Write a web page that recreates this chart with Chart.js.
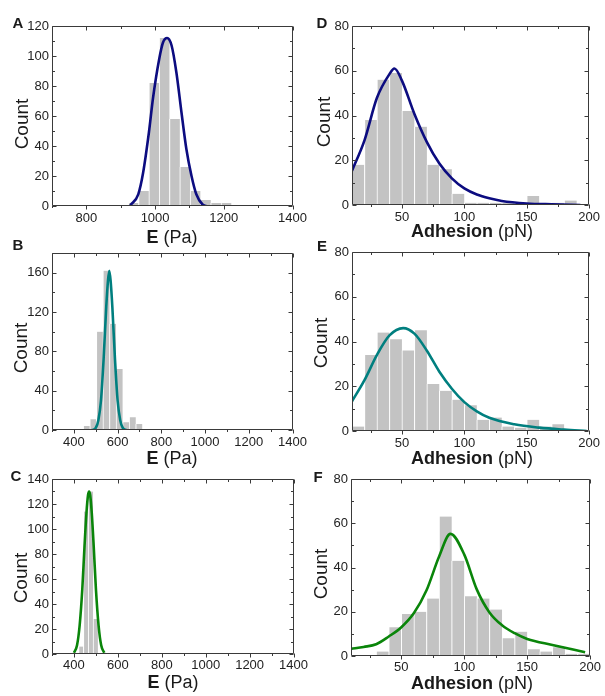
<!doctype html>
<html lang="en">
<head>
<meta charset="utf-8">
<title>Stiffness and adhesion histograms</title>
<script src="https://cdn.jsdelivr.net/npm/chart.js@4.4.1/dist/chart.umd.min.js"></script>
<style>
  body { margin: 0; background: #fff; }
  #fig { position: relative; width: 605px; height: 696px; overflow: hidden;
         font-family: "Liberation Sans", Arial, sans-serif; color: #1a1a1a; }
  #fig canvas { position: absolute; }
  .lbl { position: absolute; white-space: nowrap; line-height: 1; transform: translate(-50%, -50%); }
  .ylab { font-size: 19px; transform: translate(-50%, -50%) rotate(-90deg); }
  .xlab { font-size: 18px; }
  .tag { font-size: 15px; font-weight: bold; }
</style>
</head>
<body>
<div id="fig">
  <canvas id="cA" width="312" height="230" style="left:0;top:0"></canvas>
  <canvas id="cD" width="305" height="230" style="left:300px;top:0"></canvas>
  <canvas id="cB" width="312" height="230" style="left:0;top:230px"></canvas>
  <canvas id="cE" width="305" height="230" style="left:300px;top:230px"></canvas>
  <canvas id="cC" width="312" height="236" style="left:0;top:460px"></canvas>
  <canvas id="cF" width="305" height="236" style="left:300px;top:460px"></canvas>

  <div class="lbl tag" style="left:18px;top:22px">A</div>
  <div class="lbl tag" style="left:322px;top:22px">D</div>
  <div class="lbl tag" style="left:18px;top:244px">B</div>
  <div class="lbl tag" style="left:322px;top:245px">E</div>
  <div class="lbl tag" style="left:16px;top:475px">C</div>
  <div class="lbl tag" style="left:318px;top:476px">F</div>

  <div class="lbl ylab" style="left:21px;top:124px">Count</div>
  <div class="lbl ylab" style="left:323px;top:122px">Count</div>
  <div class="lbl ylab" style="left:20px;top:348px">Count</div>
  <div class="lbl ylab" style="left:320px;top:343px">Count</div>
  <div class="lbl ylab" style="left:20px;top:578px">Count</div>
  <div class="lbl ylab" style="left:320px;top:574px">Count</div>

  <div class="lbl xlab" style="left:172px;top:237px"><b>E</b> (Pa)</div>
  <div class="lbl xlab" style="left:472px;top:231px"><b>Adhesion</b> (pN)</div>
  <div class="lbl xlab" style="left:172px;top:458px"><b>E</b> (Pa)</div>
  <div class="lbl xlab" style="left:472px;top:458px"><b>Adhesion</b> (pN)</div>
  <div class="lbl xlab" style="left:173px;top:682px"><b>E</b> (Pa)</div>
  <div class="lbl xlab" style="left:472px;top:683px"><b>Adhesion</b> (pN)</div>
</div>

<script>
// ---- data ----
// A: E (Pa)
const binsA = [937, 967, 997, 1027, 1057, 1087, 1117, 1147, 1177, 1207];
const countsA = [2, 10, 82, 112, 58, 26, 10, 4, 2, 2];
const fitXA = [928, 951, 965, 982, 994, 1012, 1023, 1035, 1048, 1062, 1077, 1091, 1106, 1120, 1138, 1149];
const fitYA = [0.4, 7.8, 22, 49, 72, 98, 109, 112, 107, 89, 62, 38, 20, 7.8, 1, 0];

// B: E (Pa)
const binsB = [458, 488, 518, 548, 578, 608, 638, 668, 698];
const countsB = [4, 11, 100, 162, 108, 62, 8, 13, 6];
const fitXB = [484, 500, 512, 524, 536, 548, 556, 562, 568, 576, 588, 600, 612, 624, 640];
const fitYB = [0, 2, 10, 30, 72, 125, 152, 162, 152, 125, 72, 30, 10, 2, 0];

// C: E (Pa)
const binsC = [432, 454, 476, 498];
const countsC = [6, 114, 130, 28];
const fitXC = [400, 414, 426, 438, 448, 457, 464, 469, 474, 481, 490, 500, 512, 524, 538];
const fitYC = [1, 7, 23, 52, 86, 113, 127, 130, 127, 113, 86, 52, 23, 7, 1];

// D: Adhesion (pN)
const binsD = [15, 25, 35, 45, 55, 65, 75, 85, 95, 105, 115, 125, 135, 145, 155, 165, 175, 185];
const countsD = [18, 38, 56, 59, 42, 35, 18, 16, 5, 1, 1, 1, 1, 0, 4, 0, 1, 2];
const fitXD = [10, 20, 30, 40, 44, 50, 60, 70, 80, 90, 100, 110, 120, 130, 150, 170, 193];
const fitYD = [15.3, 28.9, 47.9, 58.5, 61, 55.6, 40.7, 28.1, 18.5, 11.9, 7.4, 4.7, 3.0, 1.8, 0.7, 0.3, 0];

// E: Adhesion (pN)
const binsE = [15, 25, 35, 45, 55, 65, 75, 85, 95, 105, 115, 125, 135, 145, 155, 165, 175, 185];
const countsE = [2, 34, 44, 41, 36, 45, 21, 18, 14, 11.5, 5, 6, 2, 1.5, 5, 2, 3, 0.5];
const fitXE = [10, 20, 30, 40, 51, 60, 70, 80, 90, 100, 110, 120, 140, 160, 180, 198];
const fitYE = [13.3, 22.7, 34, 42.7, 46, 43.5, 35.9, 26.5, 18.9, 12.9, 8.8, 5.9, 3, 1.5, 0.6, 0];

// F: Adhesion (pN)
const binsF = [35, 45, 55, 65, 75, 85, 95, 105, 115, 125, 135, 145, 155, 165, 175, 185, 195];
const countsF = [2, 13, 19, 20, 26, 63, 43, 27, 26, 21, 8, 11, 3, 2, 4, 1, 1];
const fitXF = [10, 20, 30, 40, 50, 60, 70, 80, 89, 100, 110, 120, 130, 140, 150, 170, 196];
const fitYF = [3.2, 4.1, 5.3, 8.8, 13, 19.4, 29.7, 45, 55.2, 45.8, 30, 19.7, 13.9, 10.3, 7.7, 5, 1.7];

// tick labels
const ticksEA = [800, 1000, 1200, 1400];
const ticksEBC = [400, 600, 800, 1000, 1200, 1400];
const ticksAdh = [50, 100, 150, 200];
const ticksCountA = [0, 20, 40, 60, 80, 100, 120];
const ticksCountB = [0, 40, 80, 120, 160];
const ticksCountC = [0, 20, 40, 60, 80, 100, 120, 140];
const ticksCountDEF = [0, 20, 40, 60, 80];

Chart.defaults.font.family = '"Liberation Sans", Arial, sans-serif';
Chart.defaults.color = '#222';

// box around the plot with Origin-style ticks (out at the bottom, in elsewhere)
const frame = {
  id: 'frame',
  afterDatasetsDraw(chart, args, opts) {
    const {ctx, chartArea: a, scales: {x, y}} = chart;
    const L = Math.round(a.left) + 0.5, R = Math.round(a.right) - 0.5;
    const T = Math.round(a.top) + 0.5, B = Math.round(a.bottom) - 0.5;
    ctx.save();
    ctx.strokeStyle = '#3a3a3a';
    ctx.lineWidth = 1;
    ctx.beginPath();
    ctx.rect(L, T, R - L, B - T);
    x.ticks.forEach(t => {
      const px = Math.round(x.getPixelForValue(t.value)) + 0.5;
      const len = opts.xMajor.includes(t.value) ? 4 : 2.5;
      ctx.moveTo(px, B); ctx.lineTo(px, B + len);
      ctx.moveTo(px, T); ctx.lineTo(px, T + len);
    });
    y.ticks.forEach(t => {
      const py = Math.round(y.getPixelForValue(t.value)) + 0.5;
      const len = opts.yMajor.includes(t.value) ? 4 : 2.5;
      ctx.moveTo(L, py); ctx.lineTo(L + len, py);
      ctx.moveTo(R, py); ctx.lineTo(R - len, py);
    });
    ctx.stroke();
    ctx.restore();
  }
};

function histChart(p) {
  new Chart(document.getElementById(p.id), {
    type: 'bar',
    data: {
      datasets: [{
        type: 'line',
        data: p.fitX.map((v, i) => ({x: v, y: p.fitY[i]})),
        borderColor: p.color,
        borderWidth: 2.6,
        pointRadius: 0,
        cubicInterpolationMode: 'monotone',
        fill: false,
        order: 1
      }, {
        type: 'bar',
        data: p.bins.map((v, i) => ({x: v, y: p.counts[i]})),
        backgroundColor: '#c3c3c3',
        borderColor: '#ffffff',
        borderWidth: {left: 1, right: 0, top: 0, bottom: 0},
        barPercentage: 1,
        categoryPercentage: 1,
        order: 2
      }]
    },
    options: {
      responsive: false,
      animation: false,
      events: [],
      devicePixelRatio: 1,
      layout: {padding: {left: 0, top: p.padTop, right: p.padRight, bottom: 0}},
      plugins: {
        legend: {display: false},
        tooltip: {enabled: false},
        frame: {xMajor: p.xMajor, yMajor: p.yMajor}
      },
      scales: {
        x: {
          type: 'linear',
          offset: false,
          min: p.xMin, max: p.xMax,
          grid: {display: false, drawTicks: false},
          border: {display: false},
          ticks: {
            stepSize: p.xStep,
            includeBounds: false,
            autoSkip: false,
            maxRotation: 0,
            padding: p.xPad,
            font: {size: 13},
            callback: v => p.xMajor.includes(v) ? String(v) : ''
          },
          afterFit: s => { s.height = p.xh; }
        },
        y: {
          min: p.yMin, max: p.yMax,
          grid: {display: false, drawTicks: false},
          border: {display: false},
          ticks: {
            stepSize: p.yStep,
            includeBounds: false,
            autoSkip: false,
            padding: 3,
            font: {size: 13},
            callback: v => p.yMajor.includes(v) ? String(v) : ''
          },
          afterFit: s => { s.width = p.yw; }
        }
      }
    },
    plugins: [frame]
  });
}

histChart({id: 'cA', bins: binsA, counts: countsA, fitX: fitXA, fitY: fitYA, color: '#0c0c80',
  xMin: 700, xMax: 1400, xStep: 100, xMajor: ticksEA, yMin: 0, yMax: 120, yStep: 10, yMajor: ticksCountA,
  padTop: 26, padRight: 19, yw: 52, xh: 24, xPad: 5});
histChart({id: 'cB', bins: binsB, counts: countsB, fitX: fitXB, fitY: fitYB, color: '#007f7f',
  xMin: 300, xMax: 1400, xStep: 100, xMajor: ticksEBC, yMin: 0, yMax: 180, yStep: 20, yMajor: ticksCountB,
  padTop: 23, padRight: 19, yw: 52, xh: 30, xPad: 5});
histChart({id: 'cC', bins: binsC, counts: countsC, fitX: fitXC, fitY: fitYC, color: '#0a850a',
  xMin: 300, xMax: 1400, xStep: 100, xMajor: ticksEBC, yMin: 0, yMax: 140, yStep: 10, yMajor: ticksCountC,
  padTop: 19, padRight: 17, yw: 52, xh: 42, xPad: 4});
histChart({id: 'cD', bins: binsD, counts: countsD, fitX: fitXD, fitY: fitYD, color: '#0c0c80',
  xMin: 10, xMax: 200, xStep: 25, xMajor: ticksAdh, yMin: 0, yMax: 80, yStep: 10, yMajor: ticksCountDEF,
  padTop: 26, padRight: 13, yw: 52, xh: 25, xPad: 5});
histChart({id: 'cE', bins: binsE, counts: countsE, fitX: fitXE, fitY: fitYE, color: '#007f7f',
  xMin: 10, xMax: 200, xStep: 25, xMajor: ticksAdh, yMin: 0, yMax: 80, yStep: 10, yMajor: ticksCountDEF,
  padTop: 22, padRight: 12, yw: 52, xh: 29, xPad: 5});
histChart({id: 'cF', bins: binsF, counts: countsF, fitX: fitXF, fitY: fitYF, color: '#0a850a',
  xMin: 10, xMax: 200, xStep: 25, xMajor: ticksAdh, yMin: 0, yMax: 80, yStep: 10, yMajor: ticksCountDEF,
  padTop: 19, padRight: 12, yw: 51, xh: 40, xPad: 4});
</script>
</body>
</html>
